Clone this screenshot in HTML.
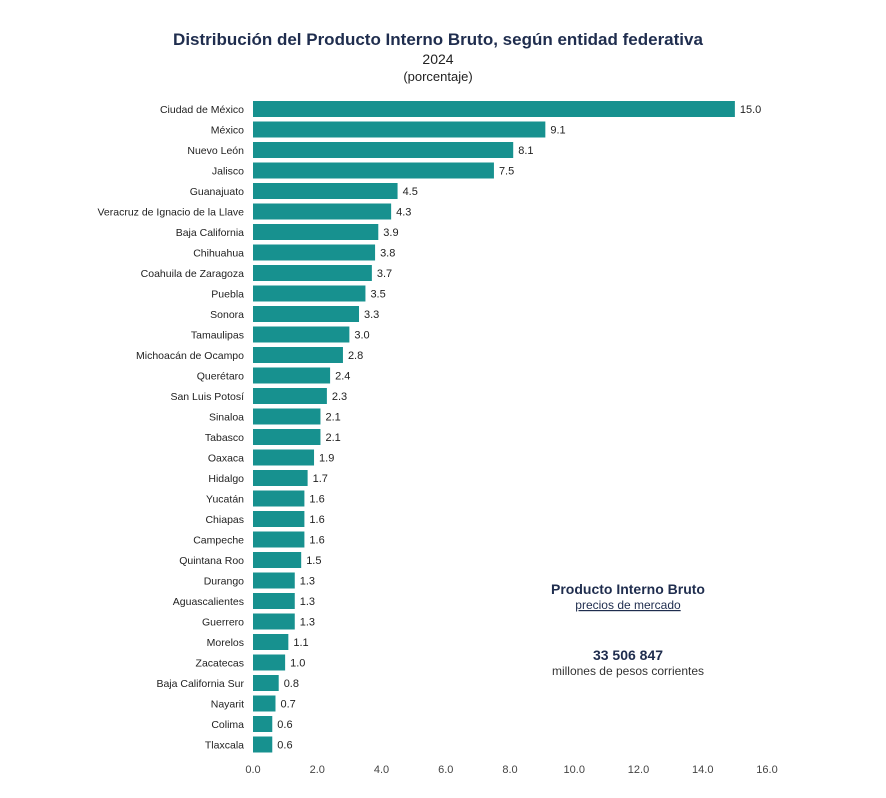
<!DOCTYPE html>
<html><head><meta charset="utf-8"><style>
body{margin:0;background:#fff;width:886px;height:793px;overflow:hidden;font-family:"Liberation Sans",sans-serif}
</style></head><body>
<svg id="chart" width="886" height="793" xmlns="http://www.w3.org/2000/svg" font-family="Liberation Sans, sans-serif">
<text x="438" y="45" text-anchor="middle" font-size="17" font-weight="bold" fill="#1f2d4e">Distribución del Producto Interno Bruto, según entidad federativa</text>
<text x="438" y="64" text-anchor="middle" font-size="14" fill="#222">2024</text>
<text x="438" y="81" text-anchor="middle" font-size="13" fill="#222">(porcentaje)</text>
<g id="bars"></g>
<g id="xaxis"></g>
<text x="628" y="594" text-anchor="middle" font-size="14" font-weight="bold" fill="#1f2d4e">Producto Interno Bruto</text>
<text x="628" y="609" text-anchor="middle" font-size="12" fill="#1f2d4e" text-decoration="underline">precios de mercado</text>
<text x="628" y="660" text-anchor="middle" font-size="14" font-weight="bold" fill="#1f2d4e">33 506 847</text>
<text x="628" y="675" text-anchor="middle" font-size="12" fill="#333">millones de pesos corrientes</text>
</svg>
<script>
const categories=["Ciudad de México","México","Nuevo León","Jalisco","Guanajuato","Veracruz de Ignacio de la Llave","Baja California","Chihuahua","Coahuila de Zaragoza","Puebla","Sonora","Tamaulipas","Michoacán de Ocampo","Querétaro","San Luis Potosí","Sinaloa","Tabasco","Oaxaca","Hidalgo","Yucatán","Chiapas","Campeche","Quintana Roo","Durango","Aguascalientes","Guerrero","Morelos","Zacatecas","Baja California Sur","Nayarit","Colima","Tlaxcala"];
const values=[15.0,9.1,8.1,7.5,4.5,4.3,3.9,3.8,3.7,3.5,3.3,3.0,2.8,2.4,2.3,2.1,2.1,1.9,1.7,1.6,1.6,1.6,1.5,1.3,1.3,1.3,1.1,1.0,0.8,0.7,0.6,0.6];
const ticks=[0,2,4,6,8,10,12,14,16];
const NS="http://www.w3.org/2000/svg";
const x0=253,x1=767,xmax=16;
const xs=v=>x0+(x1-x0)*v/xmax;
const yTop=101,step=20.5,bh=16;
const ys=i=>yTop+i*step;
const bars=document.getElementById('bars'),xa=document.getElementById('xaxis');
function mk(t,a,p){const e=document.createElementNS(NS,t);for(const k in a)e.setAttribute(k,a[k]);p.appendChild(e);return e;}
categories.forEach((c,i)=>{
  const r=mk('rect',{x:x0,y:ys(i),width:xs(values[i])-x0,height:bh,fill:'#17918f'},bars);
  
  
  const l=mk('text',{x:244,y:ys(i)+bh/2+4,'text-anchor':'end','font-size':'10.5',fill:'#222'},bars);
  l.textContent=c;
  
  
  const v=mk('text',{x:xs(values[i])+5,y:ys(i)+bh/2+4,'font-size':'11',fill:'#222'},bars);
  v.textContent=values[i].toFixed(1);
  
  
});
ticks.forEach(t=>{
  const e=mk('text',{x:xs(t),y:773,'text-anchor':'middle','font-size':'11',fill:'#444'},xa);
  e.textContent=t.toFixed(1);
  
  
});
</script>
</body></html>
